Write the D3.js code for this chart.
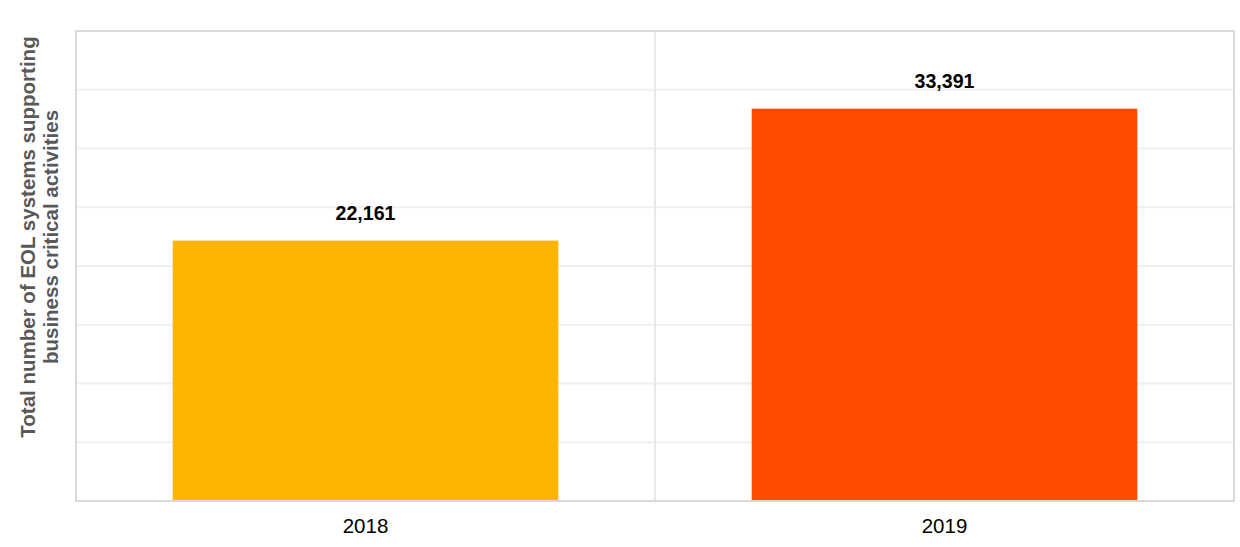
<!DOCTYPE html>
<html><head><meta charset="utf-8">
<script src="https://cdn.jsdelivr.net/npm/d3@7"></script>
<style>body{margin:0;background:#fff}</style>
</head><body>
<svg id="c" width="1240" height="547"></svg>
<script>
const categories = ["2018", "2019"];
const values = [22161, 33391];
const colors = ["#FFB400", "#FF4B00"];
const yTicks = [0, 5000, 10000, 15000, 20000, 25000, 30000, 35000, 40000];

const svg = d3.select("#c");
const m = {l: 76, r: 6, t: 31, b: 46};
const W = 1240, H = 547;
const x = d3.scaleBand().domain(categories).range([m.l, W - m.r]).paddingInner(0).paddingOuter(0);
const y = d3.scaleLinear().domain([0, 40000]).range([H - m.b, m.t]);

// horizontal gridlines
svg.append("g").selectAll("line").data(yTicks.slice(1, -1)).join("line")
  .attr("x1", m.l).attr("x2", W - m.r)
  .attr("y1", d => y(d)).attr("y2", d => y(d))
  .attr("stroke", "#efefef").attr("stroke-width", 2);
// vertical gridline between categories
svg.append("line")
  .attr("x1", x("2019")).attr("x2", x("2019"))
  .attr("y1", m.t).attr("y2", H - m.b)
  .attr("stroke", "#e8e8e8").attr("stroke-width", 2);

// bars
const bw = x.bandwidth() * 0.666;
svg.append("g").selectAll("rect").data(values).join("rect")
  .attr("x", (d, i) => x(categories[i]) + (x.bandwidth() - bw) / 2)
  .attr("width", bw)
  .attr("y", d => y(d))
  .attr("height", d => y(0) - y(d))
  .attr("fill", (d, i) => colors[i]);

// border
svg.append("rect").attr("x", m.l).attr("y", m.t)
  .attr("width", W - m.r - m.l).attr("height", H - m.b - m.t)
  .attr("fill", "none").attr("stroke", "#d9d9d9").attr("stroke-width", 2);

// value labels
const fmt = d3.format(",");
svg.append("g").selectAll("text").data(values).join("text")
  .attr("x", (d, i) => x(categories[i]) + x.bandwidth() / 2)
  .attr("y", d => y(d) - 21)
  .attr("text-anchor", "middle")
  .attr("font-family", "Liberation Sans, Arial, sans-serif")
  .attr("font-weight", "bold").attr("font-size", 19.6).attr("fill", "#000")
  .text(d => fmt(d));

// x axis labels
const xa = svg.append("g").attr("transform", `translate(0,${H - m.b})`)
  .call(d3.axisBottom(x).tickSize(0).tickPadding(17));
xa.select(".domain").remove();
xa.selectAll("text").attr("font-family", "Liberation Sans, Arial, sans-serif")
  .attr("font-size", 20.5).attr("fill", "#000");

// y axis title
const yt = svg.append("text")
  .attr("transform", "translate(0,237) rotate(-90)")
  .attr("text-anchor", "middle")
  .attr("font-family", "Liberation Sans, Arial, sans-serif")
  .attr("font-weight", "bold").attr("font-size", 20.5).attr("fill", "#595959");
yt.append("tspan").attr("x", 0).attr("y", 35).text("Total number of EOL systems supporting");
yt.append("tspan").attr("x", 0).attr("y", 58).text("business critical activities");
</script>
</body></html>
